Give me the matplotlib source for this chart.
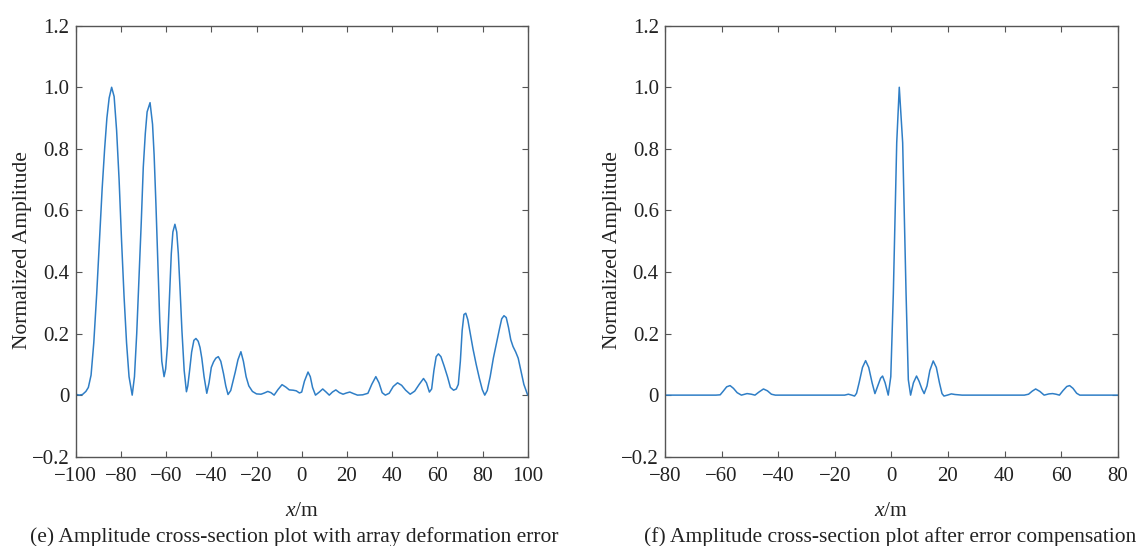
import numpy as np
import matplotlib
matplotlib.use('Agg')
import matplotlib.pyplot as plt
from matplotlib.ticker import FuncFormatter

# (e) with array deformation error
x_e = [-100, -98.5, -97, -95.5, -94.4, -93.2, -92, -90.7, -89.5, -88.3, -87.2, -86.2, -85.2, -84.1,
       -83.0, -81.9, -80.8, -79.7, -78.6, -77.5, -76.4, -75.0, -74.0, -73.0, -72.0, -71.0, -70.1,
       -69.2, -68.4, -67.1, -66.0, -65.3, -64.5, -63.7, -62.8, -61.9, -60.9, -60.2, -59.4, -58.6,
       -57.7, -57.0, -56.1, -55.3, -54.6, -53.8, -53.0, -52.0, -51.0, -50.4, -49.6, -48.7, -47.7,
       -46.8, -45.8, -45.0, -44.2, -43.2, -42.0, -41.0, -40.0, -39.0, -38.0, -36.9, -35.8, -34.6,
       -33.6, -32.6, -31.4, -30.4, -29.4, -28.2, -26.9, -25.8, -24.6, -23.4, -21.8, -20.0, -18.0,
       -16.5, -15.0, -13.6, -12.2, -10.5, -8.7, -7.0, -5.5, -3.8, -2.4, -1.0, 0.0, 1.2, 2.8, 3.8,
       4.8, 6.1, 7.8, 9.3, 10.8, 12.2, 13.6, 15.1, 16.7, 18.3, 19.8, 21.3, 22.9, 24.7, 27.0, 29.3,
       31.0, 32.8, 34.2, 35.6, 37.0, 38.7, 40.5, 42.4, 44.2, 46.0, 48.0, 50.0, 52.0, 53.9, 55.2,
       56.5, 57.5, 58.5, 59.5, 60.5, 61.6, 63.0, 64.5, 65.8, 67.2, 68.4, 69.3, 70.2, 71.0, 71.8,
       72.6, 73.5, 74.6, 75.8, 77.2, 78.6, 79.9, 81.0, 82.1, 83.4, 84.8, 86.2, 87.5, 88.5, 89.5,
       90.5, 91.5, 92.5, 93.5, 94.7, 95.8, 97.0, 98.3, 100.0]
amp_e = [0.003, 0.0, 0.002, 0.012, 0.025, 0.065, 0.17, 0.33, 0.50, 0.67, 0.80, 0.90, 0.965, 1.0,
         0.97, 0.86, 0.70, 0.50, 0.32, 0.17, 0.06, 0.0, 0.06, 0.20, 0.38, 0.56, 0.74,
         0.85, 0.92, 0.95, 0.88, 0.78, 0.62, 0.44, 0.24, 0.11, 0.06, 0.085, 0.16, 0.30,
         0.46, 0.53, 0.555, 0.53, 0.46, 0.34, 0.21, 0.08, 0.011, 0.03, 0.08, 0.14, 0.178,
         0.184, 0.175, 0.155, 0.12, 0.06, 0.006, 0.04, 0.09, 0.108, 0.12, 0.125, 0.11, 0.07,
         0.03, 0.002, 0.015, 0.045, 0.075, 0.115, 0.141, 0.11, 0.06, 0.03, 0.012, 0.004, 0.003,
         0.007, 0.012, 0.008, 0.0, 0.018, 0.034, 0.026, 0.017, 0.016, 0.014, 0.007, 0.01, 0.045, 0.075, 0.06,
         0.025, 0.0, 0.01, 0.02, 0.01, 0.0, 0.01, 0.017, 0.008, 0.003, 0.007, 0.01, 0.005, 0.0, 0.001, 0.006,
         0.035, 0.06, 0.04, 0.008, 0.0, 0.006, 0.028, 0.04, 0.032, 0.016, 0.003, 0.013, 0.035, 0.054, 0.04,
         0.01, 0.02, 0.08, 0.125, 0.134, 0.125, 0.095, 0.06, 0.025, 0.016, 0.02, 0.035, 0.11, 0.21, 0.262,
         0.266, 0.245, 0.2, 0.15, 0.1, 0.055, 0.018, 0.0, 0.015, 0.06, 0.12, 0.17, 0.215, 0.248, 0.258,
         0.252, 0.22, 0.18, 0.158, 0.14, 0.12, 0.08, 0.035, 0.0]

# (f) after error compensation
x_f = [-80, -70, -62, -60.5, -59.5, -58.2, -57.0, -55.8, -54.5, -53.0, -51.0, -49.5, -48.2, -46.8,
       -45.2, -43.8, -42.4, -41.0, -30, -20, -16.5, -15.2, -14.0, -13.0, -12.3, -11.4, -10.2, -9.1,
       -8.0, -6.8, -5.8, -4.8, -3.8, -3.1, -2.2, -1.1, -0.2, 0.7, 1.9, 2.8, 4.0, 5.2, 6.0, 6.8, 7.8,
       8.9, 9.8, 10.8, 11.6, 12.6, 13.6, 14.8, 15.9, 17.0, 17.9, 18.6, 19.8, 21.2, 22.5, 25, 40, 47,
       48.5, 49.8, 51.0, 52.5, 54.0, 55.7, 57.0, 58.2, 59.4, 60.7, 62.0, 63.0, 64.2, 65.5, 66.6, 70, 80]
amp_f = [0.0, 0.0, 0.0, 0.001, 0.012, 0.027, 0.031, 0.022, 0.008, 0.0, 0.005, 0.003, 0.0, 0.01,
         0.02, 0.014, 0.003, 0.0, 0.0, 0.0, 0.0, 0.003, 0.0, -0.003, 0.006, 0.04, 0.09, 0.112,
         0.09, 0.04, 0.005, 0.03, 0.055, 0.062, 0.04, 0.0, 0.06, 0.33, 0.82, 1.0, 0.82, 0.33, 0.05, 0.0, 0.04,
         0.062, 0.045, 0.02, 0.005, 0.03, 0.08, 0.111, 0.09, 0.04, 0.005, -0.003, 0.0, 0.004, 0.002, 0.0, 0.0, 0.0,
         0.003, 0.013, 0.02, 0.012, 0.0, 0.004, 0.005, 0.003, 0.0, 0.015, 0.028, 0.031, 0.022, 0.006, 0.0, 0.0, 0.0]

xticks_e = np.arange(-100, 101, 20)
xticks_f = np.arange(-80, 81, 20)
yticks = [-0.2, 0, 0.2, 0.4, 0.6, 0.8, 1.0, 1.2]
captions = ['(e) Amplitude cross-section plot with array deformation error',
            '(f) Amplitude cross-section plot after error compensation']

plt.rcParams['font.family'] = 'Liberation Serif'
plt.rcParams['mathtext.fontset'] = 'custom'
plt.rcParams['mathtext.rm'] = 'Liberation Serif'
plt.rcParams['mathtext.it'] = 'Liberation Serif:italic'


def yfmt(v, pos):
    if abs(v) < 1e-9:
        return '0'
    return ('%.1f' % v).replace('-', '\u2212')


def xfmt(v, pos):
    return ('%d' % round(v)).replace('-', '\u2212')


fig = plt.figure(figsize=(11.36, 5.46), dpi=100)
ax1 = fig.add_axes([75.7 / 1136, 89.3 / 546, 452 / 1136, 431 / 546])
ax2 = fig.add_axes([665 / 1136, 89.3 / 546, 452.7 / 1136, 431 / 546])

for ax, xs, ys, xt, cap, cx in [(ax1, x_e, amp_e, xticks_e, captions[0], 0.259),
                                (ax2, x_f, amp_f, xticks_f, captions[1], 0.784)]:
    ax.plot(xs, ys, color='#2f7ec6', lw=1.1)
    ax.set_xlim(xt[0], xt[-1])
    ax.set_ylim(-0.2, 1.2)
    ax.set_xticks(xt)
    ax.set_yticks(yticks)
    ax.xaxis.set_major_formatter(FuncFormatter(xfmt))
    ax.yaxis.set_major_formatter(FuncFormatter(yfmt))
    ax.tick_params(direction='in', top=True, right=True, length=4, width=0.8,
                   color='#555555', labelsize=15, labelcolor='#222222')
    ax.tick_params(axis='x', pad=7.5)
    ax.tick_params(axis='y', pad=4.5)
    for s in ax.spines.values():
        s.set_color('#555555')
        s.set_linewidth(1.0)
    ax.set_xlabel('$x$/m', fontsize=15.5, color='#222222')
    ax.xaxis.set_label_coords(0.5, -0.128)
    ax.xaxis.label.set_verticalalignment('center')
    ax.set_ylabel('Normalized Amplitude', fontsize=15.5, color='#222222')
    ax.yaxis.set_label_coords(-0.117, 0.48)
    ax.yaxis.label.set_verticalalignment('center')
    fig.text(cx, 0.0165, cap, ha='center', va='center', fontsize=15.5, color='#222222')

fig.savefig('out.png', dpi=100)
